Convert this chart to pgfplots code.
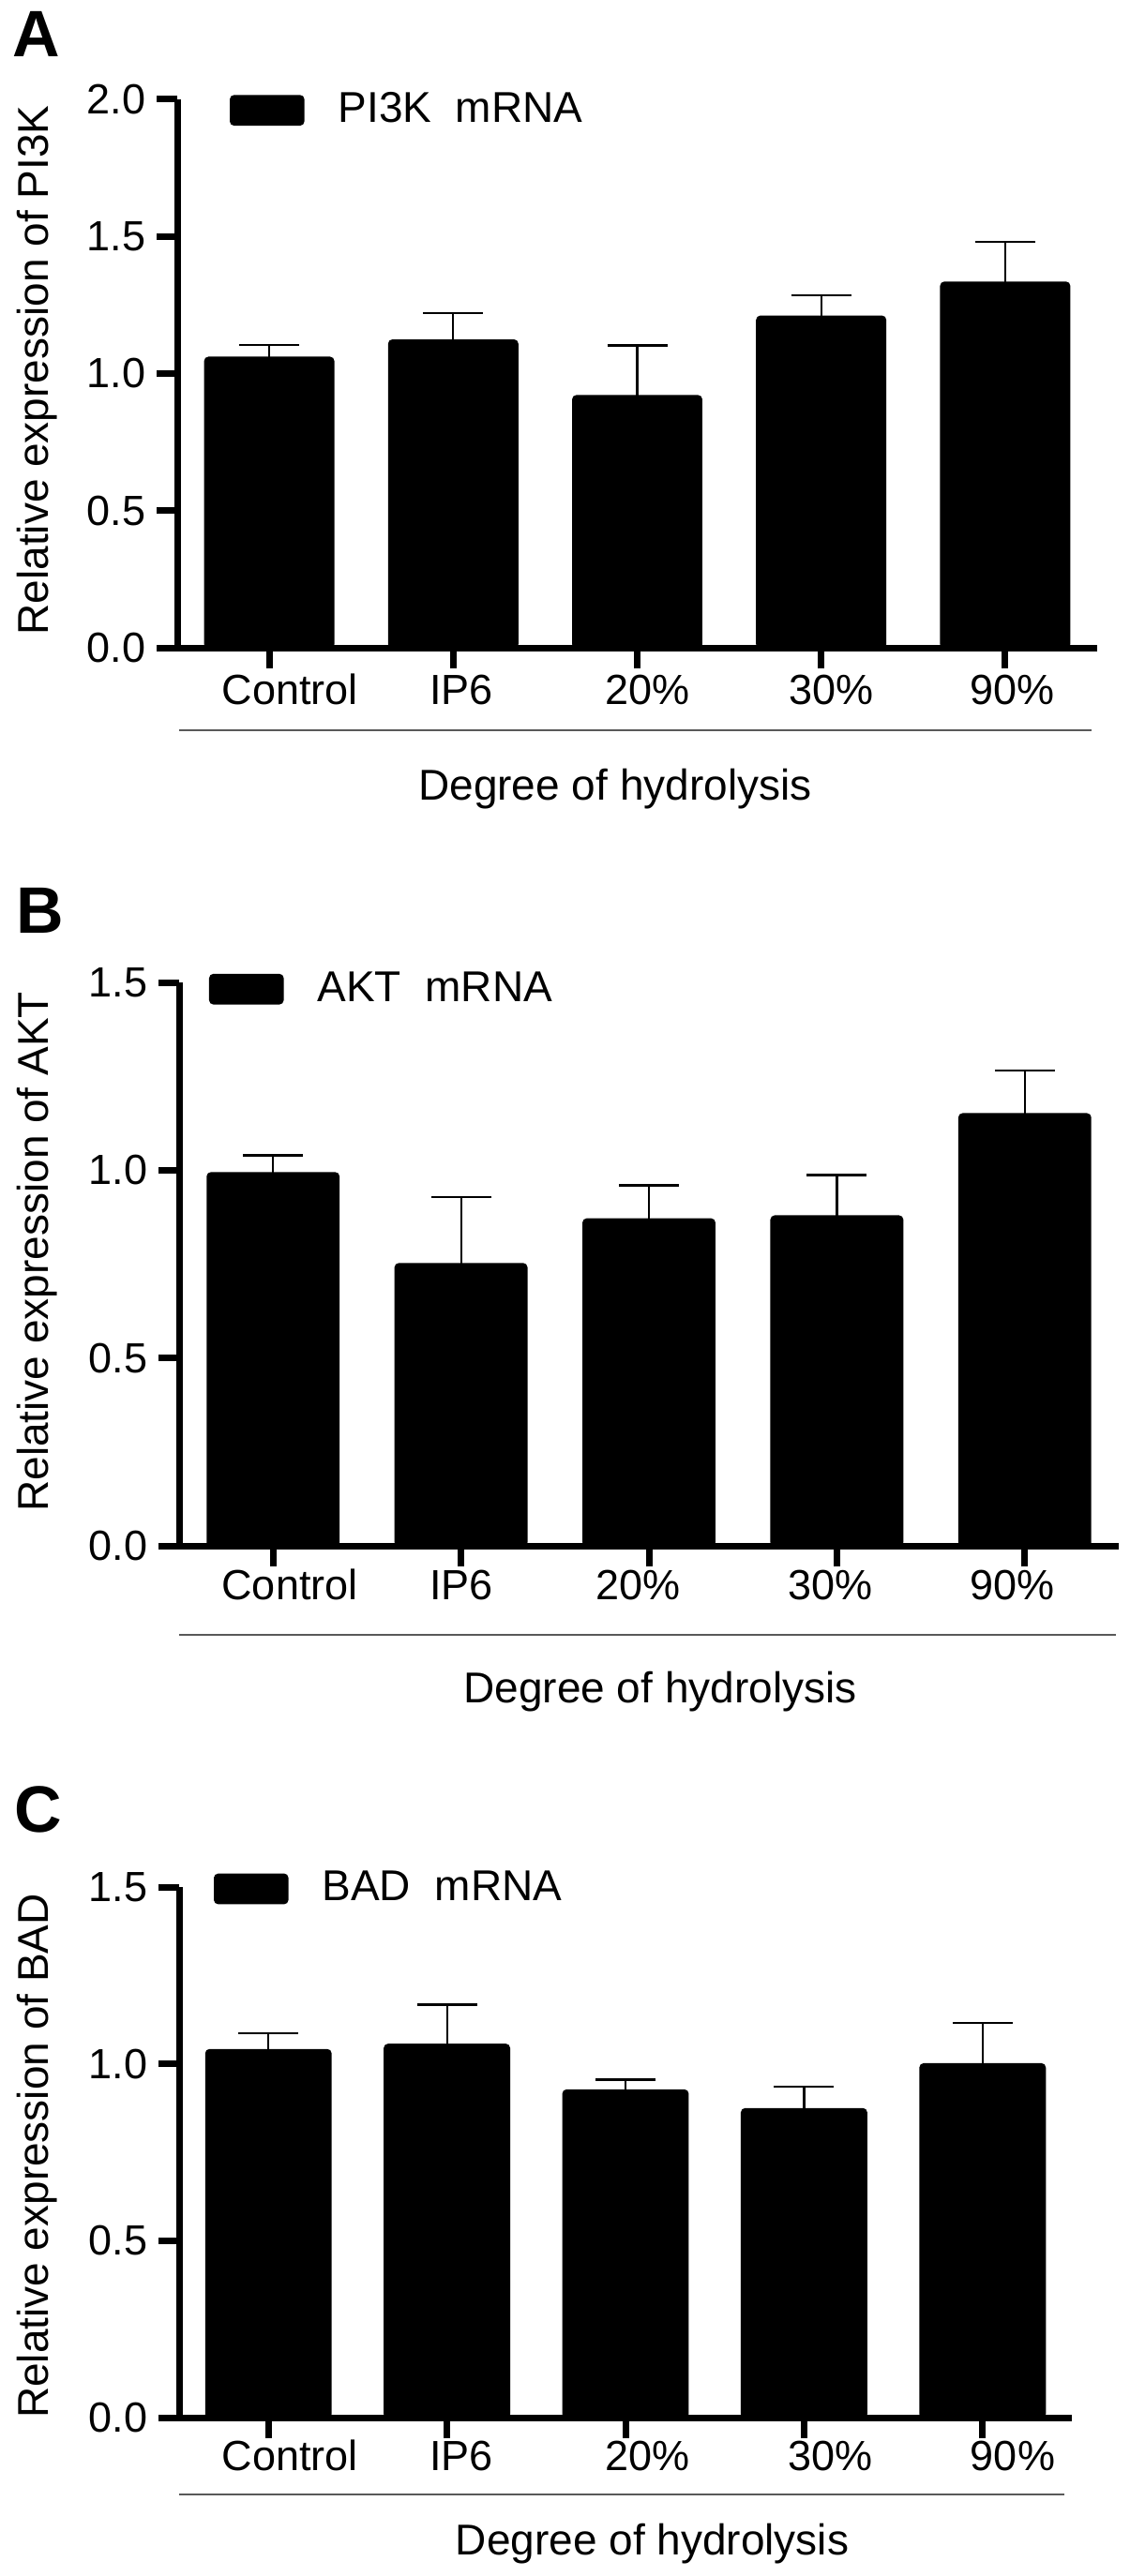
\documentclass[border=0pt]{standalone}
\usepackage{fontspec}
\setmainfont{Liberation Sans}
\usepackage{pgfplots}
\pgfplotsset{compat=1.18}

% 1 px of the reference = 0.25pt
\pgfplotsset{
  panel/.style={
    scale only axis,
    anchor=south west,
    axis lines=left,
    axis line style={line width=1.75pt, -},
    ybar, bar width=0.70,
    xmin=-0.5, xmax=4.5, ymin=0,
    xtick={0,...,4},
    xticklabels={,,,,},
    ytick distance=0.5,
    tick align=outside,
    major tick length=5.5pt,
    tick style={line width=1.75pt, black},
    tick label style={font=\fontsize{11.25}{13}\selectfont},
    label style={font=\fontsize{11.5}{13}\selectfont},
    /pgf/number format/assume math mode=true,
    yticklabel style={/pgf/number format/fixed, /pgf/number format/fixed zerofill,
      /pgf/number format/precision=1, anchor=east, inner sep=0pt, xshift=-2.75pt},
    xlabel={Degree of hydrolysis},
    xlabel style={anchor=base},
    ylabel style={anchor=center},
    error bars/y dir=plus, error bars/y explicit,
    error bars/error bar style={line width=0.55pt, black},
    error bars/error mark options={rotate=90, line width=0.6pt, mark size=8pt, black},
    legend style={draw=none, fill=none, anchor=west, inner sep=0pt, outer sep=0pt,
      nodes={inner sep=0pt}, font=\fontsize{11.5}{13}\selectfont},
    legend image code/.code={
      \fill[black, rounded corners=1pt] (0pt,-3.9pt) rectangle (19.5pt,3.9pt);
      \path (28.5pt,0pt);},
    clip=false,
  },
  bars/.style={fill=black, draw=black, line width=0.4pt, rounded corners=1pt},
}
\tikzset{
  cat/.style={anchor=base, inner sep=0pt, font=\fontsize{11.25}{13}\selectfont},
  sep/.style={black!65, line width=0.7pt},
}

\begin{document}
\begin{tikzpicture}
\useasboundingbox (0,0) rectangle (301.25pt,-687pt);

\node[anchor=north west, inner sep=0pt, font=\fontsize{17.5}{20}\selectfont\bfseries] at (3.25pt,-3pt) {A};
\node[anchor=north west, inner sep=0pt, font=\fontsize{17.5}{20}\selectfont\bfseries] at (4.2pt,-236.75pt) {B};
\node[anchor=north west, inner sep=0pt, font=\fontsize{17.5}{20}\selectfont\bfseries] at (3.7pt,-476.25pt) {C};

% A: PI3K
\begin{axis}[panel,
  at={(47.25pt,-172.75pt)}, width=245.25pt, height=146.25pt,
  ymax=2.0,
  ylabel={Relative expression of PI3K},
  ylabel style={at={(axis description cs:-0.152,0.506)}},
  xlabel style={at={(axis description cs:0.476,0)}, yshift=-40.5pt},
  legend style={at={(axis description cs:0.0571,0.980)}},
]
\addplot[bars] coordinates {
  (0,1.059) +- (0,0.045)
  (1,1.122) +- (0,0.098)
  (2,0.919) +- (0,0.183)
  (3,1.209) +- (0,0.076)
  (4,1.333) +- (0,0.147)
};
\addlegendentry{PI3K\ \ mRNA}
\node[cat] at ([yshift=-15pt]axis cs:0.112,0) {Control};
\node[cat] at ([yshift=-15pt]axis cs:1.044,0) {IP6};
\node[cat] at ([yshift=-15pt]axis cs:2.054,0) {20\%};
\node[cat] at ([yshift=-15pt]axis cs:3.053,0) {30\%};
\node[cat] at ([yshift=-15pt]axis cs:4.041,0) {90\%};
\draw[sep] ([yshift=-22pt]rel axis cs:0.002,0) -- ([yshift=-22pt]rel axis cs:0.994,0);
\end{axis}

% B: AKT
\begin{axis}[panel,
  at={(47.75pt,-412.25pt)}, width=250.5pt, height=150.25pt,
  ymax=1.5,
  ylabel={Relative expression of AKT},
  ylabel style={at={(axis description cs:-0.1507,0.522)}},
  xlabel style={at={(axis description cs:0.512,0)}, yshift=-41.75pt},
  legend style={at={(axis description cs:0.0319,0.988)}},
]
\addplot[bars] coordinates {
  (0,0.993) +- (0,0.047)
  (1,0.751) +- (0,0.178)
  (2,0.870) +- (0,0.090)
  (3,0.878) +- (0,0.109)
  (4,1.150) +- (0,0.115)
};
\addlegendentry{AKT\ \ mRNA}
\node[cat] at ([yshift=-14.25pt]axis cs:0.089,0) {Control};
\node[cat] at ([yshift=-14.25pt]axis cs:1.002,0) {IP6};
\node[cat] at ([yshift=-14.25pt]axis cs:1.945,0) {20\%};
\node[cat] at ([yshift=-14.25pt]axis cs:2.968,0) {30\%};
\node[cat] at ([yshift=-14.25pt]axis cs:3.936,0) {90\%};
\draw[sep] ([yshift=-23.75pt]rel axis cs:0,0) -- ([yshift=-23.75pt]rel axis cs:0.997,0);
\end{axis}

% C: BAD
\begin{axis}[panel,
  at={(47.75pt,-644.75pt)}, width=238pt, height=141.5pt,
  ymax=1.5,
  ylabel={Relative expression of BAD},
  ylabel style={at={(axis description cs:-0.159,0.493)}},
  xlabel style={at={(axis description cs:0.530,0)}, yshift=-36.5pt},
  legend style={at={(axis description cs:0.0389,0.9965)}},
]
\addplot[bars] coordinates {
  (0,1.040) +- (0,0.047)
  (1,1.055) +- (0,0.112)
  (2,0.926) +- (0,0.029)
  (3,0.873) +- (0,0.063)
  (4,1.000) +- (0,0.116)
};
\addlegendentry{BAD\ \ mRNA}
\node[cat] at ([yshift=-14pt]axis cs:0.120,0) {Control};
\node[cat] at ([yshift=-14pt]axis cs:1.081,0) {IP6};
\node[cat] at ([yshift=-14pt]axis cs:2.121,0) {20\%};
\node[cat] at ([yshift=-14pt]axis cs:3.150,0) {30\%};
\node[cat] at ([yshift=-14pt]axis cs:4.169,0) {90\%};
\draw[sep] ([yshift=-20.5pt]rel axis cs:0,0) -- ([yshift=-20.5pt]rel axis cs:0.992,0);
\end{axis}
\end{tikzpicture}
\end{document}
